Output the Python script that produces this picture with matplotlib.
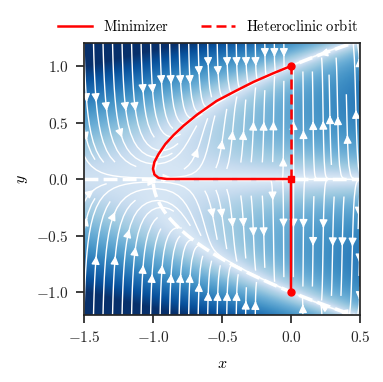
import numpy as np
import matplotlib.pyplot as plt
from matplotlib.colors import PowerNorm
from matplotlib.ticker import FuncFormatter

# Vector field: dx/dt = -eps*x, dy/dt = y*(x + 1 - y^2)
eps = 0.03
x_range = [-1.5, 0.5]
y_range = [-1.2, 1.2]

# Minimizer path (from (0,-1) through the saddle to (0,1))
min_x = [0.0, 0.0, -0.5, -0.9, -0.96, -0.99, -1.0, -0.99, -0.96, -0.91,
         -0.85, -0.78, -0.68, -0.54, -0.4, -0.27, -0.13, 0.0]
min_y = [-1.0, 0.0, 0.0, 0.0, 0.01, 0.04, 0.09, 0.15, 0.22, 0.31,
         0.39, 0.47, 0.57, 0.69, 0.78, 0.86, 0.935, 1.0]

# Heteroclinic orbit from the saddle to the upper node
het_x = [0.0, 0.0]
het_y = [0.0, 1.0]

# Fixed points
stable_x = [0.0, 0.0]
stable_y = [1.0, -1.0]
saddle_x = [0.0]
saddle_y = [0.0]

plt.rcParams['mathtext.fontset'] = 'cm'
plt.rcParams['font.family'] = 'serif'
plt.rcParams['axes.linewidth'] = 1.25
plt.rcParams['axes.edgecolor'] = '#262626'
plt.rcParams['xtick.color'] = '#262626'
plt.rcParams['ytick.color'] = '#262626'

fig = plt.figure(figsize=(3.83, 3.82), dpi=100)
ax = fig.add_axes([0.2193, 0.1764, 0.7206, 0.7100])

xs = np.linspace(x_range[0], x_range[1], 300)
ys = np.linspace(y_range[0], y_range[1], 300)
X, Y = np.meshgrid(xs, ys)
U = -eps * X
V = Y * (X + 1 - Y**2)
speed = np.sqrt(U**2 + V**2)

ax.imshow(speed, extent=x_range + y_range, origin='lower', cmap='Blues',
          norm=PowerNorm(gamma=0.45, vmin=0, vmax=1.5),
          aspect='auto', interpolation='bilinear')
ax.streamplot(X, Y, U, V, color='white', linewidth=1, density=1,
              arrowsize=1.2)

# Nullclines of dy/dt
dash = (0, (4, 1.5))
ax.plot(xs, np.zeros_like(xs), color='white', lw=2.5, ls=dash)
xp = xs[xs >= -1]
ax.plot(xp, np.sqrt(xp + 1), color='white', lw=2.5, ls=dash)
ax.plot(xp, -np.sqrt(xp + 1), color='white', lw=2.5, ls=dash)

ax.plot(min_x, min_y, color='red', lw=1.8, label=r'$\mathrm{Minimizer}$')
ax.plot(het_x, het_y, color='red', lw=1.8, ls=(0, (4, 2)),
        label=r'$\mathrm{Heteroclinic\ orbit}$')
ax.plot(stable_x, stable_y, 'o', color='red', ms=5)
ax.plot(saddle_x, saddle_y, 's', color='red', ms=5)

ax.set_xlim(x_range)
ax.set_ylim(y_range)
ax.set_xticks([-1.5, -1.0, -0.5, 0.0, 0.5])
ax.set_yticks([-1.0, -0.5, 0.0, 0.5, 1.0])
fmt = FuncFormatter(lambda v, p: f'${v:.1f}$')
ax.xaxis.set_major_formatter(fmt)
ax.yaxis.set_major_formatter(fmt)
ax.tick_params(direction='out', length=6, width=1.25, labelsize=11, pad=5)
ax.set_xlabel('$x$', fontsize=11.5, labelpad=7)
ax.set_ylabel('$y$', fontsize=11.5)

ax.legend(loc='lower center', bbox_to_anchor=(0.45, 0.985), ncol=2,
          frameon=False, fontsize=10.5, handlelength=2.3, columnspacing=2.2)

fig.savefig('out.png', dpi=100)
